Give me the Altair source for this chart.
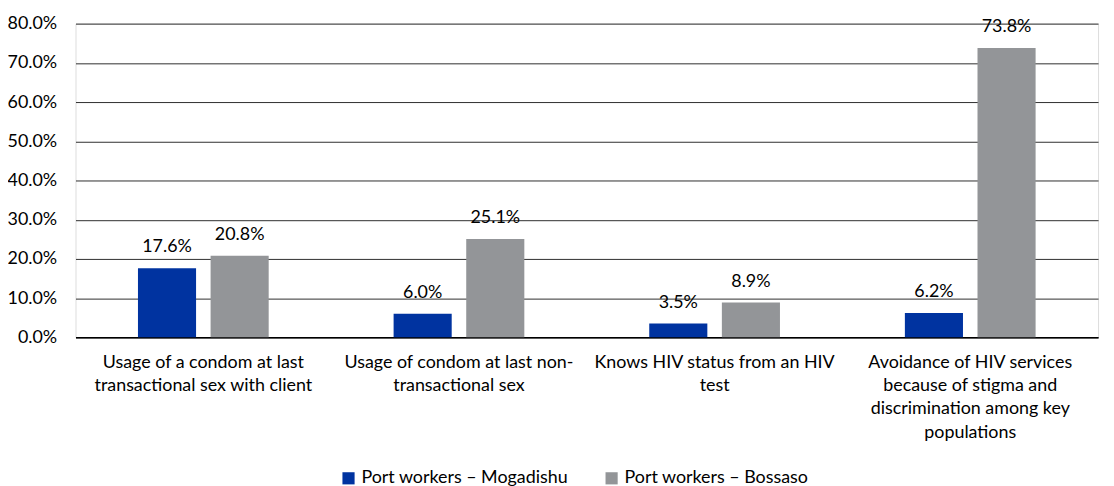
import altair as alt
import pandas as pd

categories = [
    "Usage of a condom at last\ntransactional sex with client",
    "Usage of condom at last non-\ntransactional sex",
    "Knows HIV status from an HIV\ntest",
    "Avoidance of HIV services\nbecause of stigma and\ndiscrimination among key\npopulations",
]
series_names = ["Port workers \u2013 Mogadishu", "Port workers \u2013 Bossaso"]
mogadishu = [17.6, 6.0, 3.5, 6.2]
bossaso = [20.8, 25.1, 8.9, 73.8]
y_ticks = [0, 10, 20, 30, 40, 50, 60, 70, 80]
colors = ["#0033A0", "#939598"]

rows = []
for i, c in enumerate(categories):
    rows.append({"cat": c, "series": series_names[0], "value": mogadishu[i], "label": f"{mogadishu[i]:.1f}%"})
    rows.append({"cat": c, "series": series_names[1], "value": bossaso[i], "label": f"{bossaso[i]:.1f}%"})
df = pd.DataFrame(rows)

FONT = "Lato"
FS = 18

x = alt.X("cat:N", sort=categories, title=None,
          scale=alt.Scale(paddingInner=0, paddingOuter=0),
          axis=alt.Axis(labelAngle=0, labelExpr="split(datum.value, '\\n')",
                        labelFontSize=FS, labelColor="#000000", labelFont=FONT,
                        labelPadding=16, labelLineHeight=23.5, labelLimit=300,
                        ticks=False, domain=True, domainColor="#000000", domainWidth=1.5,
                        labelBaseline="top"))
xo = alt.XOffset("series:N", sort=series_names,
                 scale=alt.Scale(paddingInner=0.2, paddingOuter=0.86))
y = alt.Y("value:Q", title=None,
          scale=alt.Scale(domain=[0, 80], nice=False),
          axis=alt.Axis(values=y_ticks, labelExpr="format(datum.value, '.1f') + '%'",
                        labelFontSize=FS, labelColor="#000000", labelFont=FONT,
                        labelPadding=19, ticks=False, domain=False, labelOverlap=False,
                        grid=True, gridColor="#2e2e2e", gridWidth=1))

bars = alt.Chart(df).mark_bar().encode(
    x=x, xOffset=xo, y=y,
    color=alt.Color("series:N", sort=series_names,
                    scale=alt.Scale(domain=series_names, range=colors),
                    legend=alt.Legend(title=None, orient="none", direction="horizontal",
                                      legendX=266, legendY=449,
                                      symbolType="square", symbolSize=150,
                                      symbolStrokeWidth=0,
                                      labelFontSize=FS, labelFont=FONT, labelColor="#000000",
                                      columnPadding=34, labelLimit=400)),
)

texts = alt.Chart(df).mark_text(baseline="bottom", dy=-12, fontSize=FS, font=FONT,
                                 color="#000000").encode(
    x=x, xOffset=xo, y=y, text="label:N"
)

chart = alt.layer(bars, texts).properties(
    width=1030, height=316,
    autosize=alt.AutoSizeParams(type="none"),
    padding={"left": 68, "top": 14, "right": 8, "bottom": 148},
).configure_view(stroke=None).configure(font=FONT)

chart.save("out.html", embed_options={"renderer": "svg", "actions": False})
